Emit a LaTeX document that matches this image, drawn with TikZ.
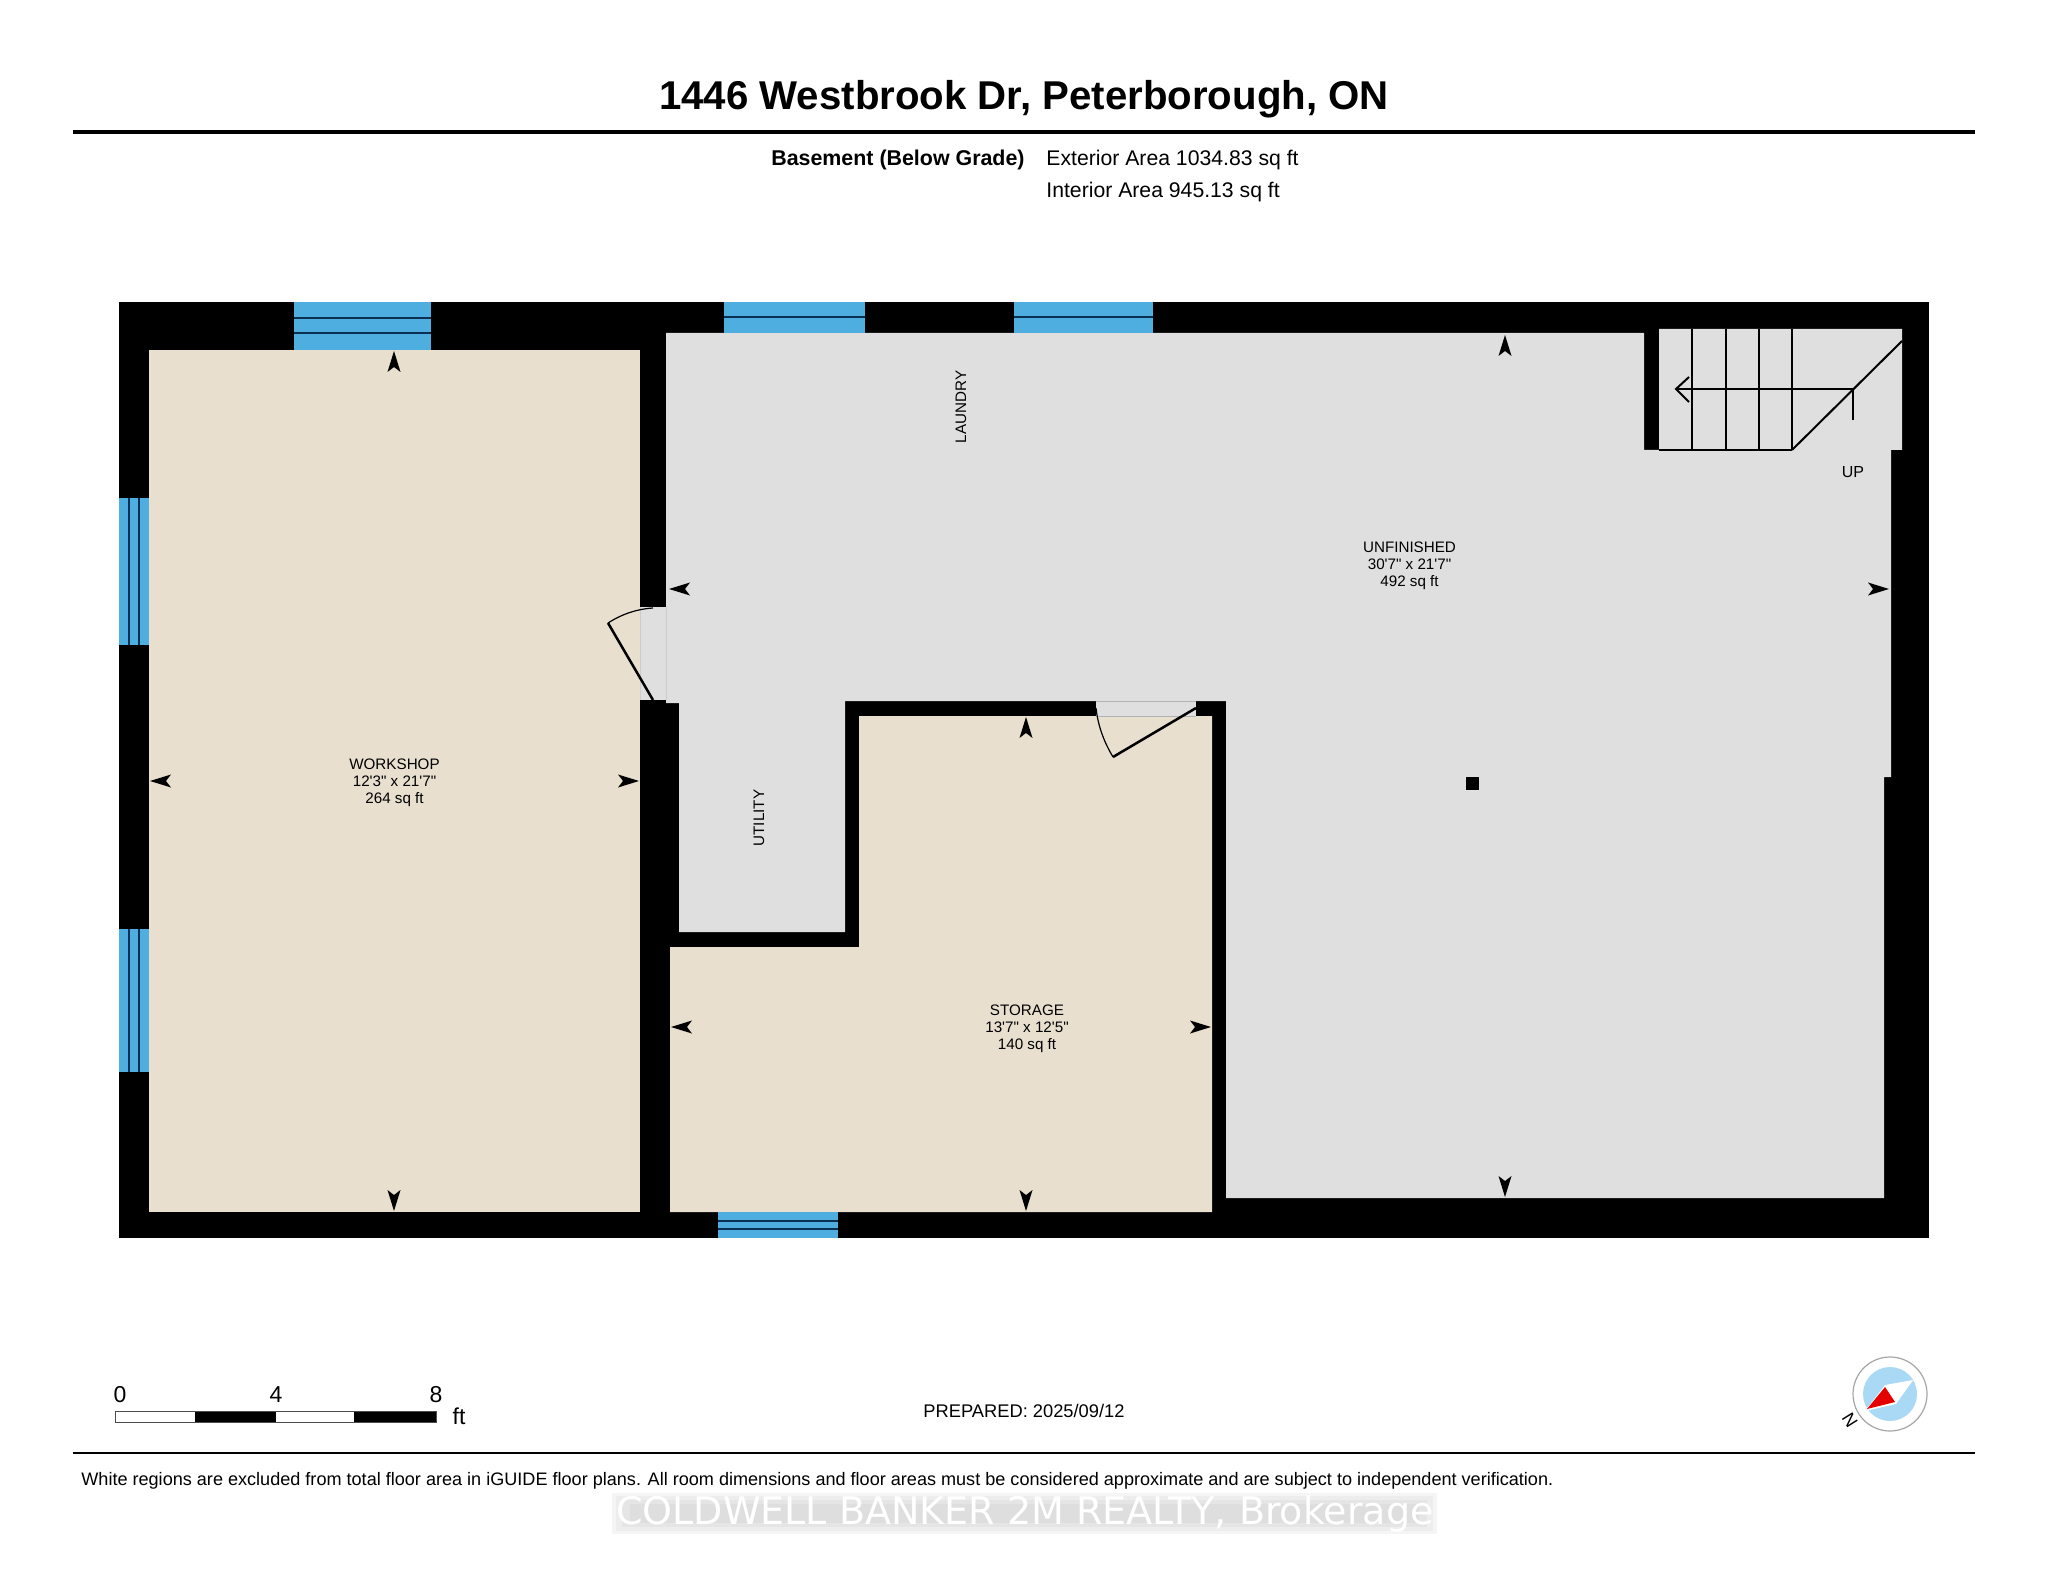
\documentclass[tikz,border=0pt]{standalone}
\usepackage{fontspec}
\setmainfont{Liberation Sans}
\newfontfamily\plainf{Liberation Sans}
\newfontfamily\wmfont{DejaVu Sans}
\definecolor{warmroom}{HTML}{E8DFCF}
\definecolor{greyroom}{HTML}{DFDFDF}
\definecolor{winblue}{HTML}{4FAEE0}
\definecolor{winline}{HTML}{0B2F50}
\definecolor{skyc}{HTML}{A9D9F5}
\tikzset{
  wallfill/.style={fill=black,draw=none},
  warm/.style={fill=warmroom,draw=none},
  grey/.style={fill=greyroom,draw=none},
  winbox/.style={fill=winblue,draw=none},
  winrule/.style={draw=winline,line width=0.9pt},
  stairline/.style={draw=black,line width=1pt},
  doorleaf/.style={draw=black,line width=1.25pt},
  doorarc/.style={draw=black,line width=0.6pt},
  roomlabel/.style={font=\plainf\fontsize{7.6}{8.5}\selectfont,align=center,inner sep=0pt,text=black},
  info/.style={font=\fontsize{10.6}{13}\selectfont,inner sep=0pt,text=black},
  headtip/.pic={\fill[black] (0,0)--(-6.5,21)--(0,16)--(6.5,21)--cycle;}
}
\begin{document}
\begin{tikzpicture}[x=0.5pt,y=-0.5pt]
\useasboundingbox (0,0) rectangle (2048,1582);
\fill[white] (0,0) rectangle (2048,1582);
% title block
\node[inner sep=0pt,font=\bfseries\fontsize{20.1}{24}\selectfont] (title) at (1024,99.5) {1446 Westbrook Dr, Peterborough, ON};
\draw[line width=1.6pt] (73,132) -- (1975,132);
\node[info,anchor=east,font=\bfseries\fontsize{10.7}{13}\selectfont] (grade) at (1025,160) {Basement (Below Grade)};
\node[info,anchor=west] (ext) at (1046,160) {Exterior Area 1034.83 sq ft};
\node[info,anchor=west] (int) at (1046,192.5) {Interior Area 945.13 sq ft};
% walls
\fill[wallfill] (119,302) rectangle (1929,1238);
% rooms
\fill[warm] (149,350) rectangle (640,1212);
\fill[warm] (670,947) -- (859,947) -- (859,716) -- (1212,716) -- (1212,1212) -- (670,1212) -- cycle;
\fill[grey] (666,333) -- (1644,333) -- (1644,450) -- (1659,450) -- (1659,329) -- (1902,329) -- (1902,450) -- (1891,450) -- (1891,777) -- (1884,777) -- (1884,1198) -- (1226,1198) -- (1226,701) -- (845,701) -- (845,932) -- (679,932) -- (679,703) -- (666,703) -- cycle;
% door openings
\fill[greyroom] (640,607) rectangle (666,700);
\draw[draw=black!20,line width=0.4pt] (640,607) -- (640,700) (666,607) -- (666,700);
\fill[greyroom] (1096,701) rectangle (1196,716);
\draw[draw=black!30,line width=0.4pt] (1096,701) -- (1196,701) (1096,716) -- (1196,716);
\draw[doorleaf] (653,700) -- (608,623);
\draw[doorarc] (608,623) .. controls (622,614) and (637,609) .. (653,608);
\draw[doorleaf] (1196,708) -- (1113,757);
\draw[doorarc] (1113,757) .. controls (1104,742) and (1098,726) .. (1096,708);
% windows
\fill[winbox] (294,302) rectangle (431,350);
\draw[winrule] (294,318) -- (431,318) (294,333) -- (431,333);
\fill[winbox] (724,302) rectangle (865,333);
\draw[winrule] (724,317) -- (865,317);
\fill[winbox] (1014,302) rectangle (1153,333);
\draw[winrule] (1014,317) -- (1153,317);
\fill[winbox] (119,498) rectangle (149,645);
\draw[winrule] (129,498) -- (129,645) (139,498) -- (139,645);
\fill[winbox] (119,929) rectangle (149,1072);
\draw[winrule] (129,929) -- (129,1072) (139,929) -- (139,1072);
\fill[winbox] (718,1212) rectangle (838,1238);
\draw[winrule] (718,1221) -- (838,1221) (718,1229) -- (838,1229);
% column
\fill[black] (1465.5,776.5) rectangle (1478.5,789.5);
% stairs
\draw[stairline] (1659,450) -- (1792,450);
\draw[stairline] (1692,329) -- (1692,450) (1726,329) -- (1726,450) (1759,329) -- (1759,450) (1792,329) -- (1792,450);
\draw[stairline] (1792,450) -- (1902,341);
\draw[stairline] (1853,420) -- (1853,389) -- (1676,389);
\draw[stairline] (1689,377) -- (1676,389) -- (1689,402);
\node[inner sep=0pt,font=\fontsize{8}{9}\selectfont] (up) at (1853,472) {UP};
% dimension heads
\pic at (394,351) {headtip};
\pic[rotate=180] at (394,1211) {headtip};
\pic[rotate=90] at (150,781) {headtip};
\pic[rotate=-90] at (639,781) {headtip};
\pic at (1505,335) {headtip};
\pic[rotate=180] at (1505,1197) {headtip};
\pic[rotate=90] at (669,589) {headtip};
\pic[rotate=-90] at (1889,589) {headtip};
\pic at (1026,717) {headtip};
\pic[rotate=180] at (1026,1211) {headtip};
\pic[rotate=90] at (671,1027) {headtip};
\pic[rotate=-90] at (1211,1027) {headtip};
% room labels
\node[roomlabel] (workshop) at (394.5,782.5) {WORKSHOP\\12'3" x 21'7"\\264 sq ft};
\node[roomlabel] (unfinished) at (1409.5,565.5) {UNFINISHED\\30'7" x 21'7"\\492 sq ft};
\node[roomlabel] (storage) at (1027,1028.5) {STORAGE\\13'7" x 12'5"\\140 sq ft};
\node[roomlabel,rotate=90] (laundry) at (961,407) {LAUNDRY};
\node[roomlabel,rotate=90] (utility) at (759,818) {UTILITY};
% scale bar
\fill[white] (115,1411) rectangle (195,1422);
\fill[black] (195,1411) rectangle (276,1422);
\fill[white] (276,1411) rectangle (354,1422);
\fill[black] (354,1411) rectangle (436,1422);
\draw[draw=black!70,line width=0.5pt] (115.5,1411) rectangle (436,1422);
\node[inner sep=0pt,font=\fontsize{11.5}{13}\selectfont] (s0) at (120,1395) {0};
\node[inner sep=0pt,font=\fontsize{11.5}{13}\selectfont] (s4) at (276,1395) {4};
\node[inner sep=0pt,font=\fontsize{11.5}{13}\selectfont] (s8) at (436,1395) {8};
\node[inner sep=0pt,font=\fontsize{11.5}{13}\selectfont] (sft) at (459,1416) {ft};
% prepared
\node[inner sep=0pt,font=\fontsize{9.15}{11}\selectfont] (prep) at (1024,1411) {PREPARED: 2025/09/12};
% compass
\draw[draw=black!35,fill=white,line width=0.6pt] (1890,1394) circle[radius=37];
\fill[skyc] (1890,1394) circle[radius=27];
\fill[white] (1865,1411) -- (1885,1385) -- (1913,1380) -- (1896,1404) -- cycle;
\fill[red!90!black] (1867,1409) -- (1885,1387) -- (1895,1402) -- cycle;
\node[inner sep=0pt,rotate=122,font=\fontsize{9}{10}\selectfont] (north) at (1850,1420) {N};
% footer
\draw[line width=1.2pt] (73,1453) -- (1975,1453);
\node[inner sep=0pt,anchor=west,font=\fontsize{9.04}{11}\selectfont] (foot) at (81,1480.5) {White regions are excluded from total floor area in iGUIDE floor plans. All room dimensions and floor areas must be considered approximate and are subject to independent verification.};
% watermark
\fill[black!4] (612,1493) rectangle (1437,1534);
\fill[black!7] (616,1496) rectangle (1433,1531);
\fill[black!10] (622,1500) rectangle (1427,1527);
\fill[black!13] (630,1504) rectangle (1419,1523);
\node[inner sep=0pt,text=white,font=\wmfont\fontsize{19}{22}\selectfont] (mark) at (1025,1513.5) {COLDWELL BANKER 2M REALTY, Brokerage};
\end{tikzpicture}
\end{document}
